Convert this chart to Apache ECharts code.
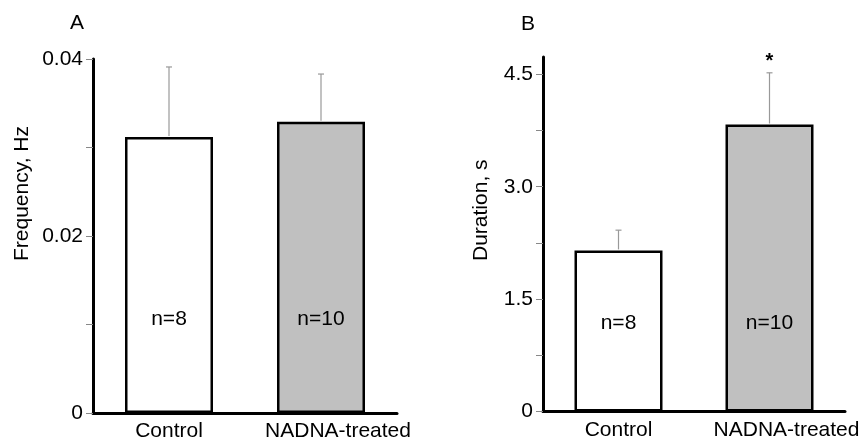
<!DOCTYPE html>
<html>
<head>
<meta charset="utf-8">
<script src="https://cdn.jsdelivr.net/npm/echarts@6/dist/echarts.min.js"></script>
<style>
html,body{margin:0;padding:0;background:#fff;}
#chart{width:866px;height:442px;}
</style>
</head>
<body>
<div id="chart"></div>
<script>
// ---- data ----
var categories = ['Control', 'NADNA-treated'];
var nLabels = ['n=8', 'n=10'];
var freqMean = [0.0312, 0.0329];
var freqSem = [0.0079, 0.0054];
var durMean = [2.15, 3.83];
var durSem = [0.27, 0.69];
var durSig = ['', '*'];
var freqSig = ['', ''];
var freqTicks = [0, 0.01, 0.02, 0.03, 0.04];
var freqTickLabels = [0, 0.02, 0.04];
var durTicks = [0, 0.75, 1.5, 2.25, 3.0, 3.75, 4.5];
var durTickLabels = [0, 1.5, 3.0, 4.5];
var barColors = ['#ffffff', '#c0c0c0'];

var FONT = 'Liberation Sans, Arial, sans-serif';
var FS = 21;

function fmtFreq(v){ return v === 0 ? '0' : v.toFixed(2); }
function fmtDur(v){ return v === 0 ? '0' : v.toFixed(1); }

function barData(means){
  return means.map(function(v, i){
    return { value: v, itemStyle: { color: barColors[i] } };
  });
}
function errData(means, sems){
  return means.map(function(v, i){ return [i, v, sems[i]]; });
}
function sigFor(id, idx){
  return id === 'errB' ? durSig[idx] : freqSig[idx];
}
function errRender(params, api){
  var i = api.value(0), m = api.value(1), s = api.value(2);
  var sig = sigFor(params.seriesId, params.dataIndex);
  var p0 = api.coord([i, m]);
  var p1 = api.coord([i, m + s]);
  var cap = 3;
  var children = [
    { type: 'line', shape: { x1: p0[0], y1: p0[1] - 1, x2: p1[0], y2: p1[1] }, style: { stroke: '#999', lineWidth: 1.2 } },
    { type: 'line', shape: { x1: p1[0] - cap, y1: p1[1], x2: p1[0] + cap, y2: p1[1] }, style: { stroke: '#999', lineWidth: 1.2 } }
  ];
  if (sig) {
    children.push({ type: 'text', x: p1[0], y: p1[1] - 11,
      style: { text: sig, fill: '#000', font: 'bold 20px ' + FONT, textAlign: 'center', textVerticalAlign: 'middle' } });
  }
  return { type: 'group', children: children };
}

function xLabelFmt(v, idx){
  return idx === 1 ? '{s|' + v + '}' : '{c|' + v + '}';
}

var axisCommonX = {
  type: 'category',
  data: categories,
  axisLine: { lineStyle: { color: '#000', width: 3 } },
  axisTick: { show: false },
  axisLabel: { color: '#000', fontSize: FS, fontFamily: FONT, margin: 8, interval: 0,
    formatter: xLabelFmt,
    rich: {
      c: { fontSize: FS, fontFamily: FONT, color: '#000' },
      s: { fontSize: FS, fontFamily: FONT, color: '#000', padding: [0, 0, 0, 34] }
    } },
  splitLine: { show: false }
};

var option = {
  animation: false,
  backgroundColor: '#fff',
  grid: [
    { left: 93, top: 59, width: 304, height: 355 },
    { left: 543, top: 57, width: 302, height: 354.5 }
  ],
  xAxis: [
    Object.assign({ gridIndex: 0 }, axisCommonX),
    Object.assign({ gridIndex: 1 }, axisCommonX)
  ],
  yAxis: [
    {
      gridIndex: 0, type: 'value', min: 0, max: 0.04,
      axisLine: { show: true, lineStyle: { color: '#000', width: 3 } },
      axisTick: { show: true, length: 7, customValues: freqTicks, lineStyle: { color: '#888', width: 1 } },
      axisLabel: { customValues: freqTickLabels, formatter: fmtFreq, color: '#000', fontSize: FS, fontFamily: FONT, margin: 10 },
      splitLine: { show: false }
    },
    {
      gridIndex: 1, type: 'value', min: 0, max: 4.731,
      axisLine: { show: true, lineStyle: { color: '#000', width: 3 } },
      axisTick: { show: true, length: 7, customValues: durTicks, lineStyle: { color: '#888', width: 1 } },
      axisLabel: { customValues: durTickLabels, formatter: fmtDur, color: '#000', fontSize: FS, fontFamily: FONT, margin: 10 },
      splitLine: { show: false }
    }
  ],
  graphic: [
    { type: 'text', x: 77, y: 23, style: { text: 'A', font: FS + 'px ' + FONT, fill: '#000', textAlign: 'center', textVerticalAlign: 'middle' } },
    { type: 'text', x: 528, y: 24, style: { text: 'B', font: FS + 'px ' + FONT, fill: '#000', textAlign: 'center', textVerticalAlign: 'middle' } },
    { type: 'text', x: 22, y: 261, rotation: Math.PI / 2, style: { text: 'Frequency, Hz', font: FS + 'px ' + FONT, fill: '#000', textAlign: 'left', textVerticalAlign: 'middle' } },
    { type: 'text', x: 481, y: 261, rotation: Math.PI / 2, style: { text: 'Duration, s', font: FS + 'px ' + FONT, fill: '#000', textAlign: 'left', textVerticalAlign: 'middle' } }
  ],
  series: [
    {
      type: 'bar', xAxisIndex: 0, yAxisIndex: 0, barWidth: 88,
      data: barData(freqMean),
      itemStyle: { borderColor: '#000', borderWidth: 2.5 },
      label: { show: true, position: 'insideBottom', distance: 83, color: '#000', fontSize: FS, fontFamily: FONT,
        formatter: function(p){ return nLabels[p.dataIndex]; } },
      z: 2
    },
    {
      type: 'bar', xAxisIndex: 1, yAxisIndex: 1, barWidth: 88,
      data: barData(durMean),
      itemStyle: { borderColor: '#000', borderWidth: 2.5 },
      label: { show: true, position: 'insideBottom', distance: 78, color: '#000', fontSize: FS, fontFamily: FONT,
        formatter: function(p){ return nLabels[p.dataIndex]; } },
      z: 2
    },
    {
      id: 'errA', type: 'custom', xAxisIndex: 0, yAxisIndex: 0,
      data: errData(freqMean, freqSem), renderItem: errRender, z: 1
    },
    {
      id: 'errB', type: 'custom', xAxisIndex: 1, yAxisIndex: 1,
      data: errData(durMean, durSem), renderItem: errRender, z: 1
    }
  ]
};

var chart = echarts.init(document.getElementById('chart'), null, { renderer: 'canvas' });
chart.setOption(option);
</script>
</body>
</html>
